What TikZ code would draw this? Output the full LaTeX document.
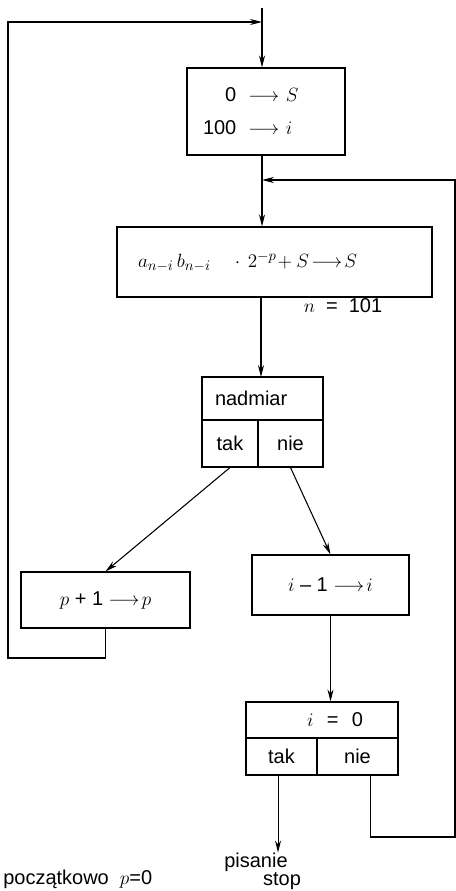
\documentclass[tikz,border=0pt]{standalone}
\usepackage{fontspec}
\setmainfont{Liberation Sans}
\usepackage{tikz}
\usetikzlibrary{arrows.meta,positioning}

\begin{document}
\begin{tikzpicture}[
    x=0.75pt, y=-0.75pt,
    box/.style={rectangle, draw, thick, inner sep=0pt, font=\fontsize{15}{18}\selectfont},
    txt/.style={inner sep=0pt, font=\fontsize{15}{18}\selectfont},
    arrow/.style={-{Stealth[length=9pt,width=4.5pt]}, thick},
    line/.style={thick}
]
    \useasboundingbox (0,0) rectangle (456,891);

    % boxes
    \node[box, minimum width=118.5pt, minimum height=65.25pt, text width=94.5pt, inner xsep=12pt, align=left] (init) at (266,111.5)
        {\renewcommand{\arraystretch}{1.35}\begin{tabular}{@{}r@{\hspace{9pt}}c@{\hspace{5pt}}l@{}}
         0 & $\longrightarrow$ & $S$\\
         100 & $\longrightarrow$ & $i$
         \end{tabular}};
    \node[box, minimum width=236.25pt, minimum height=52.5pt, text width=204.75pt, inner xsep=15.75pt, align=left] (calc) at (274.5,262)
        {$a_{n-i}\,b_{n-i}\quad\cdot\,2^{-p}\!+S\!\longrightarrow\! S$};
    \node[txt] (nval) at (343,306) {$n$ \ = \ 101};

    \node[box, minimum width=90.75pt, minimum height=32.25pt, text width=71.25pt, inner xsep=9.75pt, align=left] (nadmiar) at (262.5,398.5) {nadmiar};
    \node[box, minimum width=42pt, minimum height=35.25pt] (nadmiarTak) at (230,443.5) {tak};
    \node[box, minimum width=48.75pt, minimum height=35.25pt] (nadmiarNie) at (290.5,443.5) {nie};

    \node[box, minimum width=126.75pt, minimum height=42pt] (pbox) at (105.5,600) {$p$ + 1 $\longrightarrow\! p$};
    \node[box, minimum width=117.75pt, minimum height=45pt] (dbox) at (330.5,585) {$i$ -- 1 $\longrightarrow\! i$};

    \node[box, minimum width=114pt, minimum height=27pt, text width=61.5pt, inner xsep=26.25pt, align=right] (izero) at (322,720) {$i$ \ = \ 0};
    \node[box, minimum width=53.25pt, minimum height=27.75pt] (izeroTak) at (281.5,756.5) {tak};
    \node[box, minimum width=60.75pt, minimum height=27.75pt] (izeroNie) at (357.5,756.5) {nie};

    \node[txt] (pisanie) at (256,862) {pisanie};
    \node[txt] (stop) at (282,881) {stop};
    \node[txt, anchor=west] (start) at (3,879) {początkowo \ $p$=0};

    % loop points
    \coordinate (top) at (262,8);
    \coordinate (joinA) at (262,22);
    \coordinate (joinB) at (262,180);
    \coordinate (leftbottom) at (8,658);
    \coordinate (lefttop) at (8,22);
    \coordinate (rightbottom) at (455,837);
    \coordinate (righttop) at (455,180);

    % connectors
    \draw[arrow] (top) -- (top |- init.north);
    \draw[arrow] (joinB |- init.south) -- (joinB |- calc.north);
    \draw[arrow] (261,297) -- (261,377);
    \draw[arrow] (nadmiarTak.south) -- (pbox.north);
    \draw[arrow] (nadmiarNie.south) -- (dbox.north);
    \draw[arrow] (dbox.south) -- (dbox.south |- izero.north);
    \draw[arrow] ([xshift=-2.6pt]izeroTak.south) -- ++(0,77);
    \draw[arrow] (pbox.south) |- (leftbottom) -- (lefttop) -- (joinA);
    \draw[arrow] ([xshift=9.4pt]izeroNie.south) |- (rightbottom) -- (righttop) -- (joinB);
\end{tikzpicture}
\end{document}
